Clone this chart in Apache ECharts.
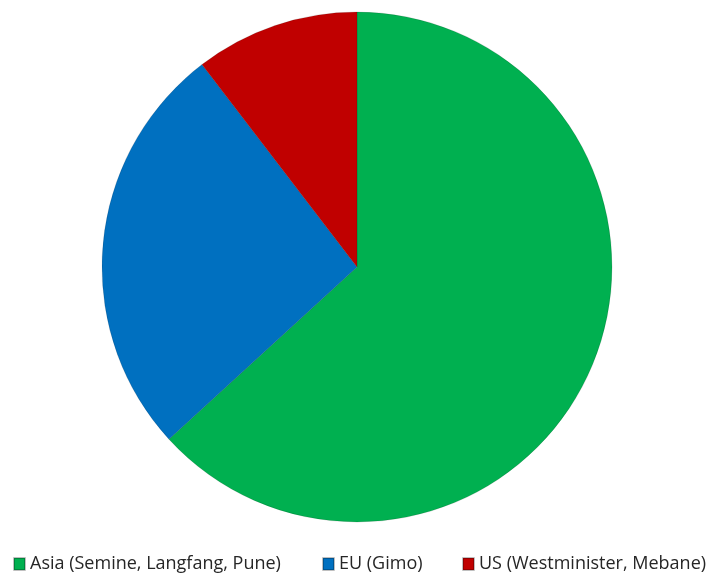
<!DOCTYPE html>
<html>
<head>
<meta charset="utf-8">
<script src="https://cdn.jsdelivr.net/npm/echarts@6/dist/echarts.min.js"></script>
<style>
  html, body { margin: 0; padding: 0; background: #fff; }
  #chart { width: 710px; height: 574px; }
</style>
</head>
<body>
<div id="chart"></div>
<script>
// 区域名称 / 占比
var regions = ['Asia (Semine, Langfang, Pune)', 'EU (Gimo)', 'US (Westminister, Mebane)'];
var shares = [63.2, 26.4, 10.4];
var colors = ['#00B050', '#0070C0', '#C00000'];

var pieData = regions.map(function (name, i) {
	return { name: name, value: shares[i], itemStyle: { color: colors[i] } };
});

// 每个图例单独定位
var legendLeft = [13, 322, 462];
var legends = regions.map(function (name, i) {
	return {
		data: [name],
		left: legendLeft[i],
		top: 555,
		padding: 0,
		itemWidth: 11,
		itemHeight: 12,
		itemGap: 5,
		icon: 'rect',
		textStyle: { fontFamily: 'Open Sans', fontSize: 18, color: '#262626', padding: [0, 0, 0, 0] }
	};
});

var chart = echarts.init(document.getElementById('chart'));
chart.setOption({
	animation: false,
	legend: legends,
	series: [
		{
			type: 'pie',
			center: [357, 267],
			radius: 255,
			startAngle: 90,
			clockwise: true,
			label: { show: false },
			labelLine: { show: false },
			itemStyle: { borderColor: 'rgba(0,0,0,0.25)', borderWidth: 0.5 },
			emphasis: { disabled: true },
			data: pieData
		}
	]
});
</script>
</body>
</html>
